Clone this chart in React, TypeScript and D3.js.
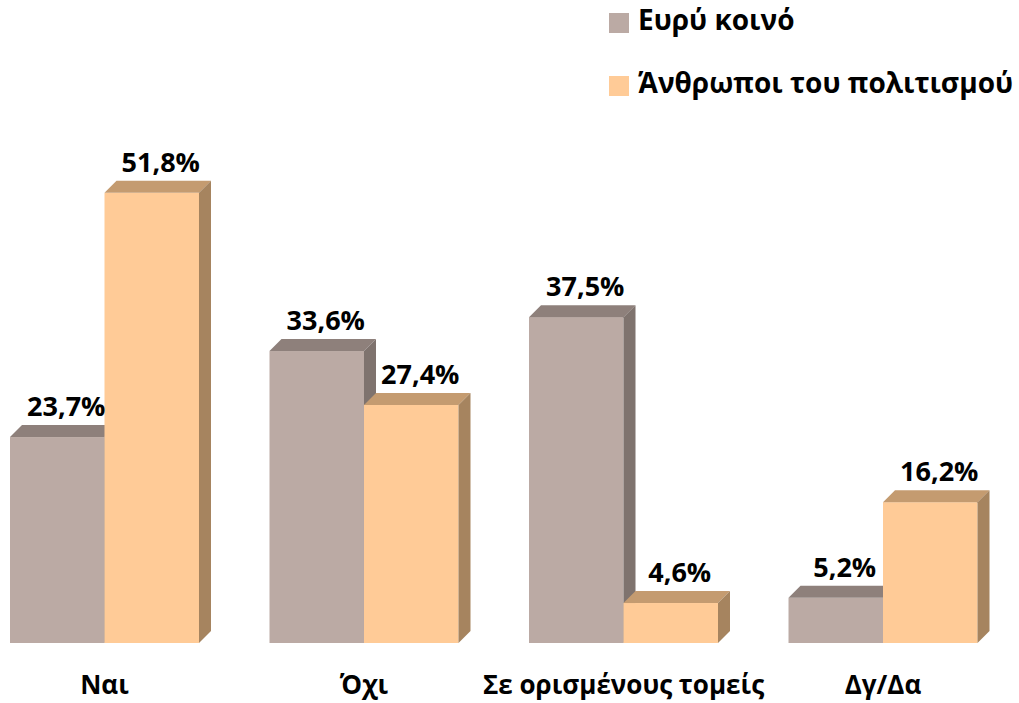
import { useRef, useEffect } from 'react'
import * as d3 from 'd3'

const categories = ['Ναι', 'Όχι', 'Σε ορισμένους τομείς', 'Δγ/Δα']
const seriesNames = ['Ευρύ κοινό', 'Άνθρωποι του πολιτισμού']
const generalPublic = [23.7, 33.6, 37.5, 5.2]
const culturePeople = [51.8, 27.4, 4.6, 16.2]

const palette = [
  { front: '#bbaaa4', top: '#8e807b', side: '#7f736e' },
  { front: '#ffcb97', top: '#c49b70', side: '#a6845f' },
]

const FONT = '"Open Sans", "Noto Sans", sans-serif'

export default function App() {
  const svgRef = useRef<SVGSVGElement>(null)

  useEffect(() => {
    if (!svgRef.current) return
    const svg = d3.select(svgRef.current)
    svg.selectAll('*').remove()

    const width = 1019
    const height = 703
    const depth = 12
    svg.attr('width', width).attr('height', height)

    const x0 = d3.scaleBand<string>().domain(categories).range([10, 977.5]).paddingInner(0.2717).paddingOuter(0)
    const x1 = d3.scaleBand<number>().domain([0, 1]).range([0, x0.bandwidth()])
    const y = d3.scaleLinear().domain([0, 60]).range([643, 121.6])

    const seriesData = [generalPublic, culturePeople]

    const g = svg.append('g')

    // bars: front, top face, side face
    categories.forEach((cat, ci) => {
      seriesData.forEach((vals, si) => {
        const v = vals[ci]
        const bx = (x0(cat) ?? 0) + (x1(si) ?? 0)
        const bw = x1.bandwidth()
        const top = y(v)
        const base = y(0)
        const c = palette[si]
        g.append('rect')
          .attr('x', bx)
          .attr('y', top)
          .attr('width', bw)
          .attr('height', base - top)
          .attr('fill', c.front)
        g.append('path')
          .attr('d', `M${bx},${top}L${bx + depth},${top - depth}L${bx + bw + depth},${top - depth}L${bx + bw},${top}Z`)
          .attr('fill', c.top)
        g.append('path')
          .attr('d', `M${bx + bw},${top}L${bx + bw + depth},${top - depth}L${bx + bw + depth},${base - depth}L${bx + bw},${base}Z`)
          .attr('fill', c.side)
      })
    })

    // value labels
    categories.forEach((cat, ci) => {
      seriesData.forEach((vals, si) => {
        const v = vals[ci]
        const bx = (x0(cat) ?? 0) + (x1(si) ?? 0)
        g.append('text')
          .attr('x', bx + x1.bandwidth() / 2 + 9)
          .attr('y', y(v) - depth - 9)
          .attr('text-anchor', 'middle')
          .attr('font-family', FONT)
          .attr('font-weight', 700)
          .attr('font-size', 27)
          .attr('fill', '#000')
          .text(`${v.toFixed(1).replace('.', ',')}%`)
      })
    })

    // category labels
    g.selectAll('.cat')
      .data(categories)
      .enter()
      .append('text')
      .attr('x', (d) => (x0(d) ?? 0) + x0.bandwidth() / 2)
      .attr('y', 694)
      .attr('text-anchor', 'middle')
      .attr('font-family', FONT)
      .attr('font-weight', 700)
      .attr('font-size', 26)
      .attr('fill', '#000')
      .text((d) => d)

    // legend
    const legend = svg.append('g').attr('transform', 'translate(609,13)')
    seriesNames.forEach((name, i) => {
      const row = legend.append('g').attr('transform', `translate(0,${i * 63})`)
      row.append('rect').attr('width', 20).attr('height', 20).attr('fill', palette[i].front)
      row.append('text')
        .attr('x', 29)
        .attr('y', 17)
        .attr('font-family', FONT)
        .attr('font-weight', 700)
        .attr('font-size', 28)
        .attr('fill', '#000')
        .text(name)
    })
  }, [])

  return (
    <div style={{ position: 'absolute', left: 0, top: 0, background: '#fff' }}>
      <svg ref={svgRef} style={{ display: 'block' }} />
    </div>
  )
}
